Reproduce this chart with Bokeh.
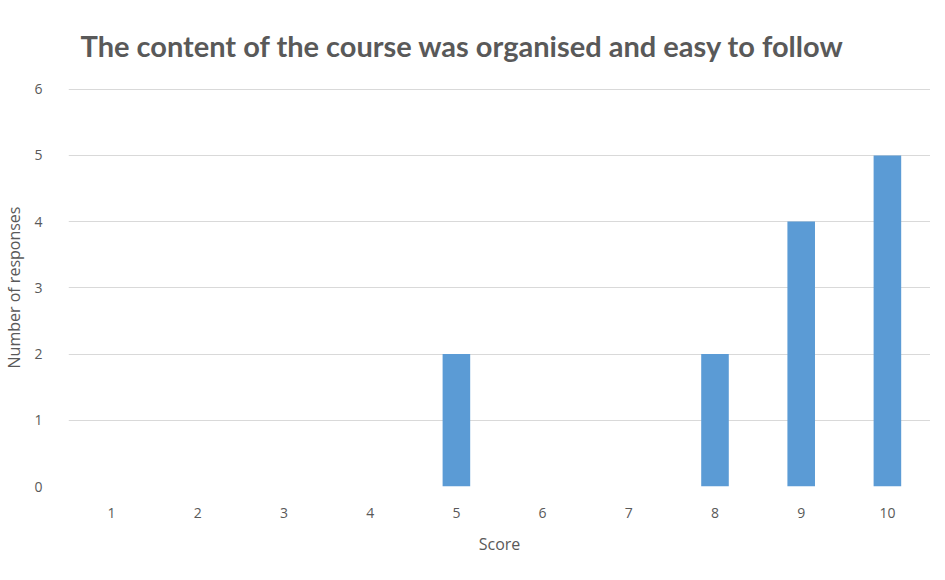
from bokeh.plotting import figure
from bokeh.models import FixedTicker, Range1d, ColumnDataSource
from bokeh.embed import file_html
from bokeh.resources import INLINE

title_text = "The content of the course was organised and easy to follow"
scores = [1, 2, 3, 4, 5, 6, 7, 8, 9, 10]
responses = [0, 0, 0, 0, 2, 0, 0, 2, 4, 5]
y_ticks = [0, 1, 2, 3, 4, 5, 6]

src = ColumnDataSource(dict(x=scores, top=responses))

p = figure(width=930, height=573, output_backend="svg", toolbar_location=None,
           x_range=Range1d(0.5, 10.5), y_range=Range1d(0, 6.01),
           min_border_left=68, min_border_right=0, min_border_top=88, min_border_bottom=87)

p.vbar(x="x", top="top", width=0.32, source=src, fill_color="#5B9BD5", line_color=None)

p.title.text = title_text
p.title.text_font = "Lato"
p.title.text_font_style = "bold"
p.title.text_font_size = "29px"
p.title.text_color = "#595959"
p.title.align = "left"
p.title.offset = 12
p.title.standoff = 51

p.outline_line_color = None
p.background_fill_color = "white"
p.border_fill_color = "white"

p.xgrid.grid_line_color = None
p.ygrid.grid_line_color = "#d9d9d9"
p.ygrid.grid_line_width = 1
p.ygrid.ticker = FixedTicker(ticks=y_ticks)

for ax in (p.xaxis[0], p.yaxis[0]):
    ax.axis_line_color = None
    ax.major_tick_line_color = None
    ax.minor_tick_line_color = None
    ax.major_label_text_color = "#595959"
    ax.major_label_text_font = "Open Sans"
    ax.major_label_text_font_size = "14px"
    ax.axis_label_text_color = "#595959"
    ax.axis_label_text_font = "Open Sans"
    ax.axis_label_text_font_size = "16px"
    ax.axis_label_text_font_style = "normal"

p.xaxis.ticker = FixedTicker(ticks=scores)
p.yaxis.ticker = FixedTicker(ticks=y_ticks)
p.xaxis.axis_label = "Score"
p.yaxis.axis_label = "Number of responses"
p.xaxis.major_label_standoff = 15
p.yaxis.major_label_standoff = 20
p.xaxis.axis_label_standoff = 12
p.yaxis.axis_label_standoff = 6

open("out.html", "w").write(file_html(p, INLINE))
